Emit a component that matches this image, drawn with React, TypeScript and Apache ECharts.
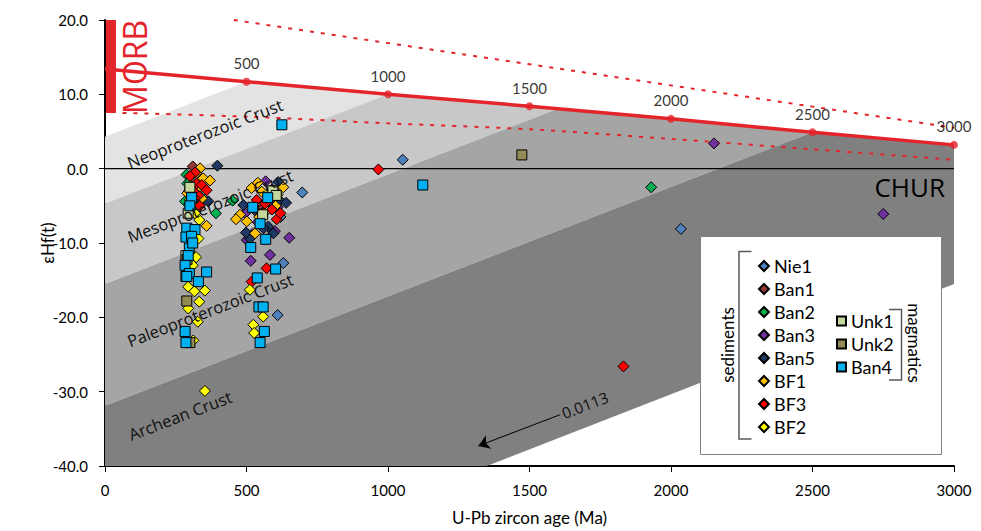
import React, { useEffect, useRef } from "react";
import * as echarts from "echarts";

// ---- axis ticks ----
const xTicks = [0, 500, 1000, 1500, 2000, 2500, 3000];
const yTicks = [-40, -30, -20, -10, 0, 10, 20];

// ---- depleted mantle (MORB) evolution line, labelled markers ----
const dmLine: number[][] = [[0, 13.4], [500, 11.7], [1000, 10.0], [1500, 8.4], [2000, 6.7], [2500, 4.9], [3000, 3.2]];
const dmMarks: number[][] = [[500, 11.7], [1000, 10.0], [1500, 8.4], [2000, 6.7], [2500, 4.9], [3000, 3.2]];
const dmUpper: number[][] = [[455, 20], [3000, 5.5]];
const dmLower: number[][] = [[62, 7.5], [500, 7.0], [1000, 6.1], [1500, 5.3], [2000, 4.0], [2500, 2.6], [3000, 1.2]];
const churLine: number[][] = [[0, 0], [3000, 0]];
const morbBar: number[][] = [[21, 20], [21, 7.5]];
const arrow: number[][] = [[1608, -33.1], [1319, -37.3]];

// ---- crust evolution bands (vertices) ----
const bandNeo: number[][] = [[0, 4.3], [500, 11.7], [1000, 10.0], [0, -4.7]];
const bandMeso: number[][] = [[0, -4.7], [1000, 10.0], [1500, 8.4], [1600, 8.06], [0, -15.5]];
const bandPaleo: number[][] = [[0, -15.5], [1600, 8.06], [2000, 6.7], [2500, 4.9], [0, -31.9]];
const bandArch: number[][] = [[0, -31.9], [2500, 4.9], [3000, 3.2], [3000, -15.5], [1349, -40], [0, -40]];
const bands = [bandNeo, bandMeso, bandPaleo, bandArch];
const bandColors = ["#e3e3e3", "#c8c8c8", "#a5a5a5", "#808080"];

// ---- samples: [U-Pb age (Ma), eHf(t)] ----
const nie1 = [[1052, 1.2], [697, -3.2], [630, -12.7], [610, -19.7], [2035, -8.1], [545, -5.6], [592, -4.2], [352, -4.1], [620, -6.5]];
const ban1 = [[310, 0.3], [302, -1.6], [322, -3.2], [560, -5.2], [590, -2.8]];
const ban2 = [[288, -0.8], [291, -2.0], [283, -4.4], [298, -2.9], [451, -4.3], [392, -6.0], [1930, -2.5]];
const ban3 = [[568, -1.7], [495, -6.0], [501, -9.6], [651, -9.3], [515, -12.4], [583, -11.6], [2152, 3.4], [2750, -6.1], [610, -5.2], [540, -7.2], [522, -8.8], [600, -8.4], [592, -4.6], [306, -5.5]];
const ban5 = [[397, 0.4], [612, -1.8], [618, -4.3], [489, -4.9], [577, -7.8], [595, -8.7], [365, -4.4], [512, -9.4], [530, -5.6], [640, -4.6], [300, -2.6], [498, -8.6], [560, -8.0], [330, -4.0]];
const bf1 = [[336, 0.05], [347, -1.3], [371, -1.6], [291, -3.3], [359, -7.7], [518, -2.6], [554, -3.1], [630, -2.5], [477, -6.2], [463, -6.8], [501, -7.1], [530, -8.7], [322, -0.6], [305, -2.5], [342, -4.0], [572, -5.6], [603, -5.0], [545, -6.5], [610, -3.5], [540, -1.9], [326, -2.8], [300, -4.2]];
const bf3 = [[318, -0.5], [324, -2.0], [342, -2.2], [359, -2.9], [298, -4.7], [536, -4.2], [565, -4.7], [590, -5.5], [607, -6.8], [571, -13.4], [966, -0.1], [1832, -26.6], [330, -3.6], [312, -3.0], [555, -6.0], [518, -15.2], [582, -3.8], [300, -1.0], [315, -3.9], [335, -5.0], [598, -3.0], [620, -6.0]];
const bf2 = [[318, -6.0], [333, -6.9], [330, -9.4], [322, -11.9], [294, -15.9], [316, -16.5], [353, -16.4], [333, -17.9], [294, -18.8], [328, -20.6], [512, -16.3], [559, -19.9], [524, -21.0], [527, -22.1], [353, -29.9], [312, -23.1], [302, -9.0], [310, -13.0]];
const unk1 = [[294, -6.0], [593, -3.0], [557, -6.2], [286, -11.7], [300, -2.5], [605, -3.6]];
const unk2 = [[1473, 1.85], [289, -17.8], [300, -23.4], [286, -14.5], [290, -12.2]];
const ban4 = [[306, -3.9], [300, -5.0], [289, -8.0], [318, -8.2], [286, -9.2], [306, -9.1], [298, -10.7], [294, -11.7], [283, -13.0], [298, -14.1], [359, -13.9], [330, -15.2], [289, -14.5], [283, -21.9], [286, -23.4], [575, -3.9], [522, -5.2], [548, -7.4], [568, -9.5], [515, -10.6], [603, -13.5], [538, -14.7], [544, -18.6], [559, -18.6], [563, -21.9], [548, -23.4], [625, 5.9], [1123, -2.2], [310, -10.0]];

const sedimentNames = ["Nie1", "Ban1", "Ban2", "Ban3", "Ban5", "BF1", "BF3", "BF2"];
const magmaticNames = ["Unk1", "Unk2", "Ban4"];

const sampleSeries = [
  { name: "Nie1", color: "#4f81bd", symbol: "diamond", data: nie1 },
  { name: "Ban1", color: "#953735", symbol: "diamond", data: ban1 },
  { name: "Ban2", color: "#00b050", symbol: "diamond", data: ban2 },
  { name: "Ban3", color: "#7030a0", symbol: "diamond", data: ban3 },
  { name: "Ban5", color: "#1f3864", symbol: "diamond", data: ban5 },
  { name: "BF1", color: "#ffc000", symbol: "diamond", data: bf1 },
  { name: "BF3", color: "#ff0000", symbol: "diamond", data: bf3 },
  { name: "BF2", color: "#ffff00", symbol: "diamond", data: bf2 },
  { name: "Unk1", color: "#c3d69b", symbol: "rect", data: unk1 },
  { name: "Unk2", color: "#948a54", symbol: "rect", data: unk2 },
  { name: "Ban4", color: "#00b0f0", symbol: "rect", data: ban4 },
];

// annotation texts (data coords)
const annotations = [
  { text: "Neoproterozoic Crust", at: [353, 4.75], rot: 21, size: 16.5 },
  { text: "Mesoproterozoic Crust", at: [371, -5.0], rot: 21, size: 16.5 },
  { text: "Paleoproterozoic Crust", at: [371, -19.0], rot: 21, size: 16.5 },
  { text: "Archean Crust", at: [265, -33.2], rot: 21, size: 16.5 },
  { text: "0.0113", at: [1696, -31.8], rot: 21, size: 15.5 },
];

const RED = "#e3242b";
const FONT = "Lato, 'Open Sans', sans-serif";
const FONT2 = "'Open Sans', sans-serif";

export default function App() {
  const ref = useRef<HTMLDivElement>(null);
  useEffect(() => {
    document.body.style.margin = "0";
    if (!ref.current) return;
    const chart = echarts.init(ref.current, undefined, { renderer: "svg" });
    const option: any = {
      animation: false,
      backgroundColor: "#fff",
      grid: { left: 105, right: 27, top: 20, bottom: 65 },
      xAxis: {
        type: "value", min: xTicks[0], max: xTicks[xTicks.length - 1], interval: 500,
        name: "U-Pb zircon age (Ma)", nameLocation: "middle", nameGap: 43, nameMoveOverlap: false,
        nameTextStyle: { fontFamily: FONT, fontSize: 17, color: "#000" },
        axisLine: { show: true, onZero: false, lineStyle: { color: "#000", width: 2 } },
        axisTick: { show: true, length: 6, lineStyle: { color: "#000", width: 1 } },
        axisLabel: { fontFamily: FONT, fontSize: 15, color: "#000", margin: 16, formatter: (v: number) => String(v) },
        splitLine: { show: false },
      },
      yAxis: {
        type: "value", min: yTicks[0], max: yTicks[yTicks.length - 1], interval: 10,
        name: "εHf(t)", nameLocation: "middle", nameGap: 49, nameMoveOverlap: false,
        nameTextStyle: { fontFamily: FONT, fontSize: 17, color: "#000" },
        axisLine: { show: true, onZero: false, lineStyle: { color: "#000", width: 2 } },
        axisTick: { show: true, length: 6, lineStyle: { color: "#000", width: 1 } },
        axisLabel: { fontFamily: FONT, fontSize: 15, color: "#000", margin: 17, formatter: (v: number) => v.toFixed(1) },
        splitLine: { show: false },
      },
      legend: [
        {
          data: sedimentNames, orient: "vertical", left: 753, top: 252, z: 10,
          itemWidth: 10, itemHeight: 10, itemGap: 5, selectedMode: false,
          textStyle: { fontFamily: FONT, fontSize: 18, lineHeight: 18, color: "#000" },
        },
        {
          data: magmaticNames, orient: "vertical", left: 831, top: 307, z: 10,
          itemWidth: 9, itemHeight: 9, itemGap: 5, selectedMode: false,
          textStyle: { fontFamily: FONT, fontSize: 18, lineHeight: 18, color: "#000" },
        },
      ],
      series: [
        {
          type: "custom", name: "bands", silent: true, z: 1,
          data: bands.map((_, i) => [i * 10, 0]),
          renderItem: (params: any, api: any) => {
            const pts = bands[params.dataIndex].map((p) => api.coord(p));
            return { type: "polygon", shape: { points: pts }, style: { fill: bandColors[params.dataIndex] } };
          },
        },
        { type: "line", name: "upper", data: dmUpper, showSymbol: false, silent: true, z: 3, lineStyle: { color: RED, width: 2, type: [4, 7] } },
        { type: "line", name: "lower", data: dmLower, showSymbol: false, silent: true, z: 3, smooth: 0.3, lineStyle: { color: RED, width: 2, type: [4, 7] } },
        { type: "line", name: "CHUR", data: churLine, showSymbol: false, silent: true, z: 3, lineStyle: { color: "#000", width: 1.2 } },
        { type: "line", name: "DM", data: dmLine, showSymbol: false, silent: true, z: 4, lineStyle: { color: RED, width: 3.5 } },
        {
          type: "scatter", name: "DMmarks", data: dmMarks, symbol: "circle", symbolSize: 8, silent: true, z: 4,
          itemStyle: { color: RED },
          label: { show: true, position: "top", distance: 7, formatter: (p: any) => String(p.value[0]), fontFamily: FONT, fontSize: 15, color: "#000" },
        },
        { type: "line", name: "MORB", data: morbBar, showSymbol: false, silent: true, z: 4, lineStyle: { color: RED, width: 10, cap: "butt" } },
        {
          type: "lines", name: "arrow", coordinateSystem: "cartesian2d", silent: true, z: 4,
          symbol: ["none", "arrow"], symbolSize: 11,
          lineStyle: { color: "#000", width: 1, opacity: 1 },
          data: [{ coords: arrow }],
        },
        ...sampleSeries.map((s) => ({
          type: "scatter", name: s.name, data: s.data, symbol: s.symbol,
          symbolSize: s.symbol === "rect" ? 10 : 11, z: 5,
          itemStyle: { color: s.color, borderColor: "#000", borderWidth: 1, opacity: 1 },
        })),
      ],
    };
    chart.setOption(option);

    const px = (p: number[]) => chart.convertToPixel({ gridIndex: 0 }, p) as number[];
    const elements: any[] = [];
    annotations.forEach((a) => {
      const [x, y] = px(a.at);
      elements.push({
        type: "text", x, y, rotation: (a.rot * Math.PI) / 180, z: 6, silent: true,
        style: { text: a.text, fill: "#111", font: `${a.size}px ${FONT2}`, align: "center", verticalAlign: "middle", textAlign: "center", textVerticalAlign: "middle" },
      });
    });
    const morbPos = px([106, 13.7]);
    elements.push({
      type: "text", x: morbPos[0], y: morbPos[1], rotation: Math.PI / 2, z: 6, silent: true,
      style: { text: "MORB", fill: RED, font: `32px ${FONT2}`, align: "center", verticalAlign: "middle", textAlign: "center", textVerticalAlign: "middle" },
    });
    const churPos = px([2968, -2.5]);
    elements.push({
      type: "text", x: churPos[0], y: churPos[1], z: 6, silent: true,
      style: { text: "CHUR", fill: "#000", font: `26px ${FONT2}`, align: "right", verticalAlign: "middle", textAlign: "right", textVerticalAlign: "middle" },
    });
    // legend box and brackets
    elements.push({ type: "rect", z: 8, silent: true, shape: { x: 700.5, y: 236.5, width: 241, height: 218 }, style: { fill: "#fff", stroke: "#808080", lineWidth: 1 } });
    elements.push({ type: "polyline", z: 11, silent: true, shape: { points: [[751.5, 251.5], [739, 251.5], [739, 439], [751.5, 439]] }, style: { stroke: "#595959", lineWidth: 1.5, fill: null } });
    elements.push({ type: "polyline", z: 11, silent: true, shape: { points: [[889, 309.5], [901.5, 309.5], [901.5, 380], [889, 380]] }, style: { stroke: "#595959", lineWidth: 1.5, fill: null } });
    elements.push({
      type: "text", x: 727, y: 345, rotation: Math.PI / 2, z: 11, silent: true,
      style: { text: "sediments", fill: "#000", font: `17px ${FONT}`, align: "center", verticalAlign: "middle", textAlign: "center", textVerticalAlign: "middle" },
    });
    elements.push({
      type: "text", x: 914, y: 343, rotation: -Math.PI / 2, z: 11, silent: true,
      style: { text: "magmatics", fill: "#000", font: `17px ${FONT}`, align: "center", verticalAlign: "middle", textAlign: "center", textVerticalAlign: "middle" },
    });
    chart.setOption({ graphic: { elements } });

    return () => chart.dispose();
  }, []);
  return <div ref={ref} style={{ width: 981, height: 531 }} />;
}
